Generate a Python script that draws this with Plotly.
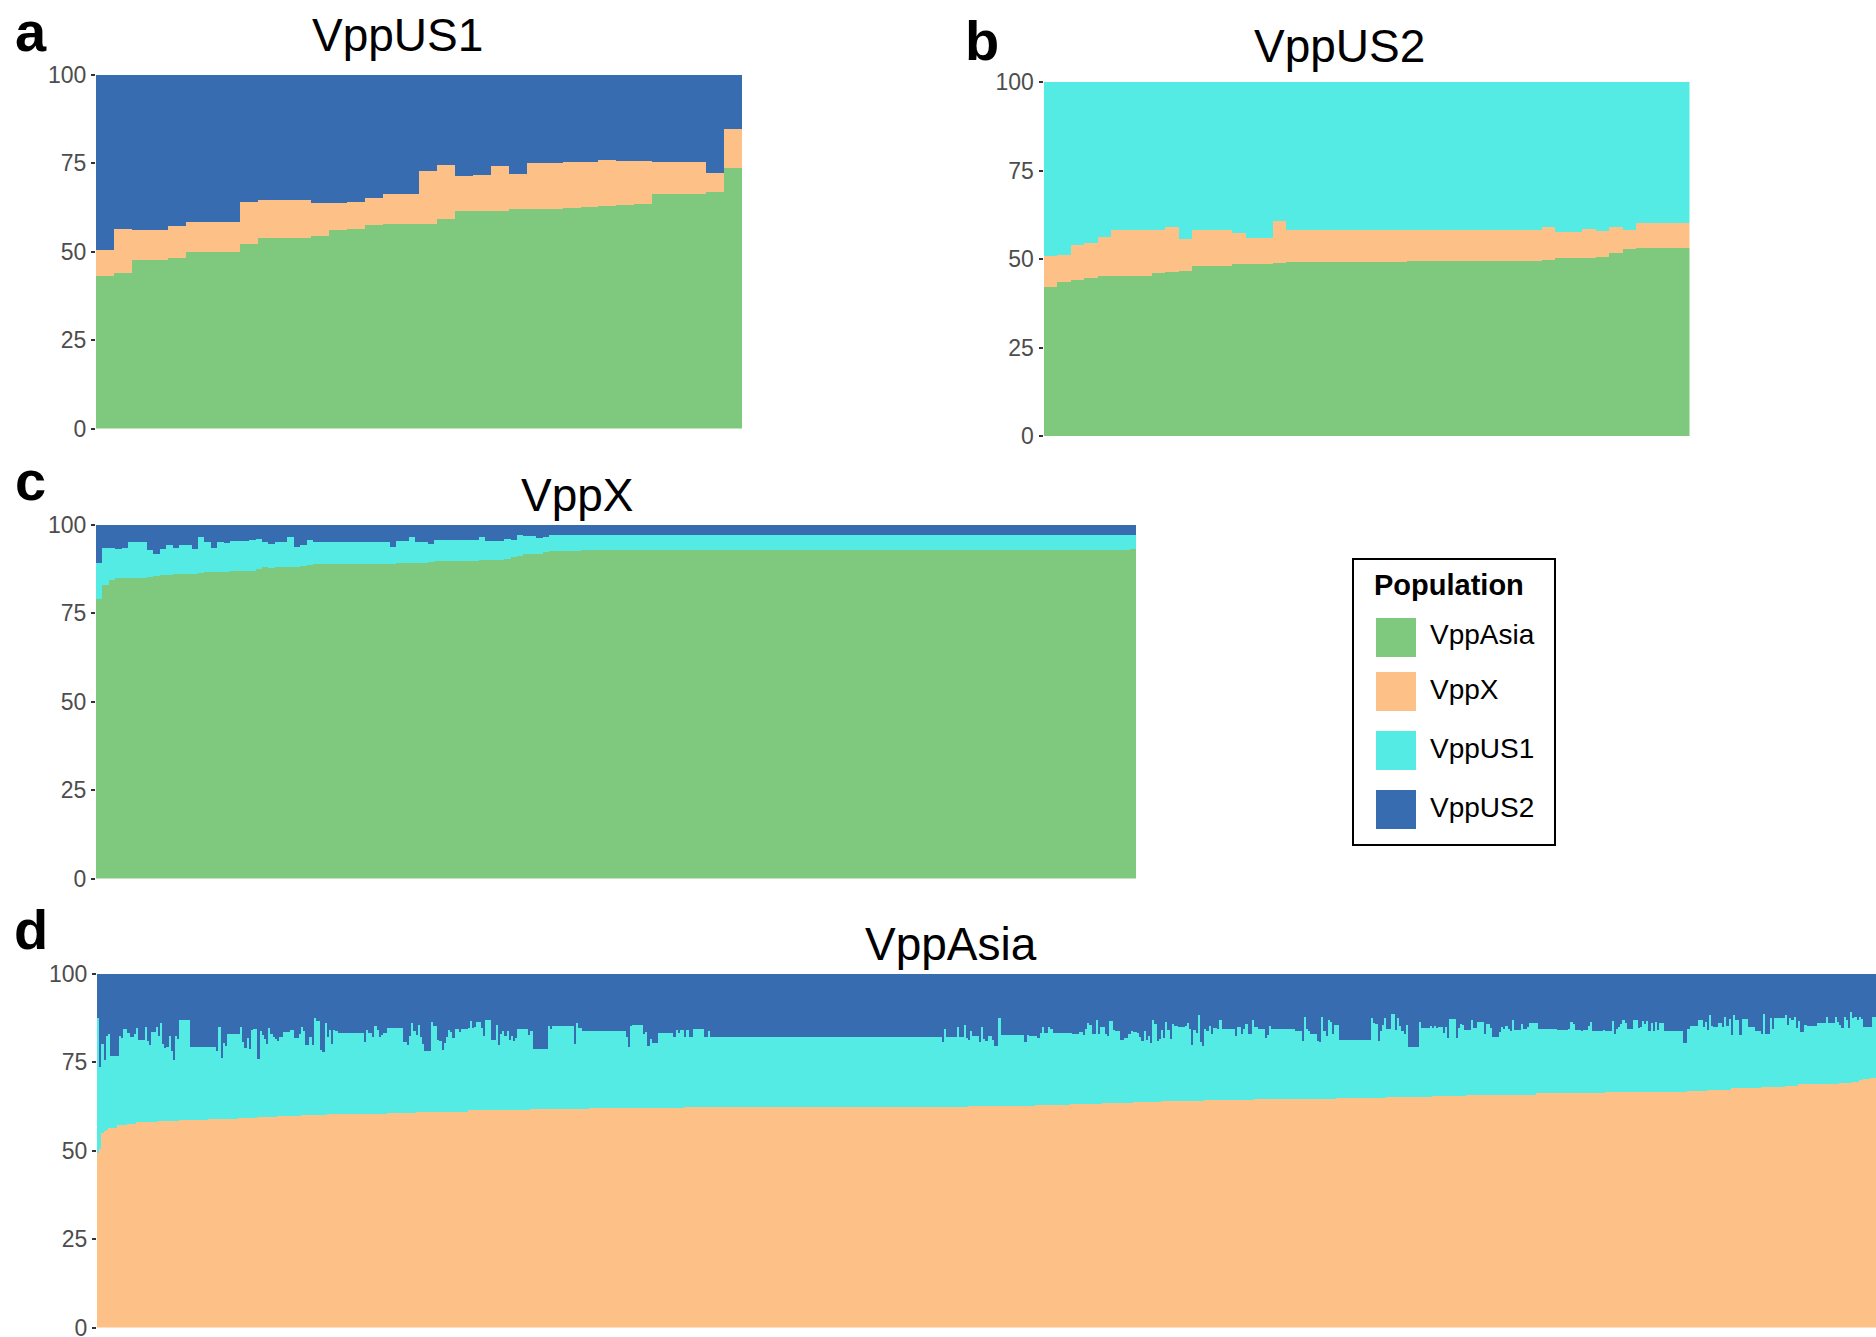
import plotly.graph_objects as go

FIG_W, FIG_H = 1876, 1337
FONT = "Liberation Sans, Arial, Helvetica, sans-serif"

populations = ["VppAsia", "VppX", "VppUS1", "VppUS2"]
pop_colors = ["#7FC97F", "#FDC086", "#53EBE3", "#386CB0"]
y_ticks = [0, 25, 50, 75, 100]

# ---- a: VppUS1 isolates, ancestry shares (%) ----
us1_vppasia = [43.2, 44.2, 47.7, 47.7, 48.3, 50.0, 50.0, 50.0, 52.3, 54.0, 54.0, 54.0,
               54.5, 56.2, 56.5, 57.6, 57.9, 57.9, 57.9, 59.3, 61.6, 61.6, 61.6, 62.1,
               62.1, 62.1, 62.4, 62.7, 63.0, 63.3, 63.6, 66.4, 66.4, 66.4, 67.0, 73.7]
us1_vppx = [7.4, 12.2, 8.5, 8.5, 9.0, 8.5, 8.5, 8.5, 11.8, 10.7, 10.7, 10.7,
            9.3, 7.6, 7.6, 7.7, 8.5, 8.5, 15.0, 15.3, 9.9, 10.2, 12.7, 9.9,
            13.0, 13.0, 13.0, 12.7, 13.0, 12.4, 12.1, 9.0, 9.0, 9.0, 5.3, 11.0]
us1_vppus2 = [49.4, 43.6, 43.8, 43.8, 42.7, 41.5, 41.5, 41.5, 35.9, 35.3, 35.3, 35.3,
              36.2, 36.2, 35.9, 34.7, 33.6, 33.6, 27.1, 25.4, 28.5, 28.2, 25.7, 28.0,
              24.9, 24.9, 24.6, 24.6, 24.0, 24.3, 24.3, 24.6, 24.6, 24.6, 27.7, 15.3]

# ---- b: VppUS2 isolates ----
us2_vppasia = [42.2, 43.6, 44.2, 44.7, 45.3, 45.3, 45.3, 45.3, 46.1, 46.4, 46.7, 48.1,
               48.1, 48.1, 48.7, 48.7, 48.7, 49.0, 49.2, 49.2, 49.2, 49.2, 49.2, 49.2,
               49.2, 49.2, 49.2, 49.5, 49.5, 49.5, 49.5, 49.5, 49.5, 49.5, 49.5, 49.5,
               49.5, 49.8, 50.4, 50.4, 50.4, 50.7, 51.8, 52.9, 53.2, 53.2, 53.2, 53.2]
us2_vppx = [8.7, 7.5, 9.8, 9.9, 11.0, 13.0, 13.0, 13.0, 12.2, 12.7, 9.0, 10.2,
            10.2, 10.2, 8.7, 7.3, 7.3, 11.8, 9.1, 9.1, 9.1, 9.1, 9.1, 9.1,
            9.1, 9.1, 9.1, 8.8, 8.8, 8.8, 8.8, 8.8, 8.8, 8.8, 8.8, 8.8,
            8.8, 9.1, 7.3, 7.3, 8.2, 7.3, 7.3, 5.4, 7.1, 7.1, 7.1, 7.1]
us2_vppus1 = [49.1, 48.9, 46.0, 45.4, 43.7, 41.7, 41.7, 41.7, 41.7, 40.9, 44.3, 41.7,
              41.7, 41.7, 42.6, 44.0, 44.0, 39.2, 41.7, 41.7, 41.7, 41.7, 41.7, 41.7,
              41.7, 41.7, 41.7, 41.7, 41.7, 41.7, 41.7, 41.7, 41.7, 41.7, 41.7, 41.7,
              41.7, 41.1, 42.3, 42.3, 41.4, 42.0, 40.9, 41.7, 39.7, 39.7, 39.7, 39.7]

# ---- c: VppX isolates, stored as (number of isolates, share %) runs ----
x_vppasia_runs = [(1, 79.1), (1, 83.1), (1, 84.5), (5, 85.1), (1, 85.3), (1, 85.6), (2, 85.9),
                  (4, 86.2), (1, 86.4), (4, 86.7), (4, 87.0), (1, 87.5), (1, 88.1), (1, 87.8),
                  (4, 88.1), (1, 88.4), (1, 88.7), (13, 89.0), (5, 89.3), (1, 89.5), (7, 89.8),
                  (4, 90.0), (1, 90.3), (1, 90.9), (1, 91.2), (3, 91.8), (1, 92.3), (5, 92.6),
                  (86, 92.9), (1, 93.2)]
x_vppus2_runs = [(1, 10.7), (2, 6.5), (1, 6.8), (1, 6.5), (3, 4.8), (1, 7.1), (1, 8.2), (1, 6.8),
                 (1, 5.7), (1, 6.5), (2, 5.7), (1, 6.8), (1, 3.4), (1, 4.8), (1, 6.5), (1, 4.8),
                 (1, 5.1), (3, 4.5), (1, 4.2), (1, 4.0), (1, 4.8), (1, 5.4), (2, 4.8), (1, 3.4),
                 (1, 6.2), (1, 5.7), (1, 4.2), (12, 4.8), (1, 6.2), (2, 4.5), (1, 3.4), (2, 4.8),
                 (1, 5.4), (7, 4.2), (1, 3.4), (3, 4.5), (1, 4.0), (1, 4.2), (1, 2.8), (2, 3.1),
                 (1, 3.7), (1, 3.4), (92, 2.8)]

# ---- d: VppAsia isolates, stored as (number of isolates, share %) runs ----
asia_vppx_runs = [(1, 49.5), (1, 50.5), (1, 55.0), (1, 55.5), (1, 56.0), (4, 56.5), (5, 57.2),
                  (4, 57.6), (10, 58.0), (10, 58.4), (13, 58.7), (14, 59.0), (9, 59.3), (9, 59.6),
                  (11, 59.8), (12, 60.1), (14, 60.3), (14, 60.5), (13, 60.7), (14, 60.9),
                  (10, 61.1), (10, 61.4), (19, 61.6), (27, 61.8), (44, 62.1),
                  (65, 62.3), (66, 62.5), (31, 62.8), (16, 63.0), (15, 63.2), (14, 63.5),
                  (13, 63.8), (20, 64.1), (23, 64.4), (14, 64.6),
                  (24, 64.7), (23, 64.9), (21, 65.2), (16, 65.4), (16, 65.7), (16, 65.9),
                  (32, 66.2), (21, 66.5), (17, 66.7), (9, 67.0), (11, 67.3), (14, 67.7),
                  (11, 67.9), (6, 68.4), (19, 68.8), (6, 69.1), (3, 69.5), (2, 69.9),
                  (3, 70.2), (3, 70.7)]
asia_vppus2_runs = [
    (1, 12.5), (1, 26.2), (1, 19.8), (1, 24.3), (1, 17.5), (1, 17.0), (4, 23.1), (1, 17.5),
    (1, 18.1), (2, 15.6), (1, 16.7), (2, 17.8), (1, 17.0), (1, 15.3), (3, 18.6), (1, 15.0),
    (1, 18.9), (1, 20.0), (2, 16.4), (1, 15.0), (1, 17.5), (1, 13.8), (1, 19.8), (1, 20.9),
    (1, 20.6), (1, 17.5), (1, 21.8), (1, 24.3), (1, 17.5), (1, 18.4), (5, 13.0), (12, 20.6),
    (1, 21.8), (1, 15.0), (1, 23.9), (1, 19.6), (1, 20.4), (6, 17.0), (1, 15.0), (1, 19.2),
    (1, 20.9), (1, 18.1), (1, 21.2), (1, 15.8), (2, 15.6), (1, 24.0), (1, 16.1), (1, 17.3),
    (1, 18.4), (1, 19.8), (1, 15.3), (1, 17.0), (1, 17.8), (1, 18.4), (1, 18.9), (2, 17.8),
    (3, 16.4), (2, 15.8), (2, 18.1), (1, 17.0), (1, 15.0), (1, 16.1), (2, 20.0), (1, 17.8),
    (1, 20.0), (1, 12.5), (2, 13.3), (1, 21.5), (1, 22.2), (1, 13.8), (1, 17.8), (1, 15.8),
    (1, 19.8), (1, 15.8), (1, 16.1), (12, 16.7), (1, 19.1), (1, 15.8), (2, 16.7), (1, 17.8),
    (1, 14.7), (1, 15.8), (1, 17.8), (1, 17.3), (2, 16.7), (7, 15.3), (2, 19.2), (1, 20.0),
    (1, 17.5), (1, 13.8), (1, 16.1), (1, 17.3), (1, 14.5), (1, 17.8), (1, 19.8), (3, 21.8),
    (1, 13.5), (2, 14.7), (1, 18.6), (1, 18.9), (1, 21.5), (1, 19.6), (1, 17.8), (1, 15.8),
    (1, 16.4), (1, 18.1), (2, 15.6), (1, 16.4), (3, 15.6), (1, 15.3), (1, 13.3), (1, 15.3),
    (1, 15.0), (2, 13.5), (1, 15.3), (1, 17.5), (3, 13.0), (2, 18.6), (1, 14.5), (1, 20.0),
    (1, 17.0), (1, 16.1), (1, 17.5), (1, 16.1), (1, 18.6), (1, 17.5), (1, 18.9), (1, 18.1),
    (5, 15.6), (1, 17.3), (1, 16.1), (7, 21.2), (1, 14.7), (1, 15.6), (10, 14.7), (1, 19.8),
    (1, 13.8), (2, 15.3), (20, 16.1), (1, 17.8), (1, 20.7), (1, 14.7), (5, 14.5), (1, 17.0),
    (1, 16.4), (1, 20.5), (1, 18.4), (3, 19.6), (7, 16.7), (1, 17.8), (1, 15.8), (1, 16.7),
    (2, 15.8),
    (1, 17.8), (1, 15.8), (2, 17.8), (5, 15.6), (2, 17.8), (1, 16.1), (107, 17.8), (1, 19.2),
    (1, 15.6), (5, 17.8), (1, 15.0), (2, 17.8), (1, 14.5), (1, 18.1), (1, 18.6), (1, 16.1),
    (3, 17.5), (1, 19.2), (1, 15.0), (1, 18.4), (1, 18.9), (2, 17.5), (1, 18.6), (2, 20.4),
    (1, 12.5), (11, 17.3), (1, 19.2), (1, 17.3), (4, 17.5), (1, 18.1), (1, 16.7), (1, 15.0),
    (2, 16.7), (1, 15.0), (1, 15.6), (9, 16.7), (3, 17.0), (2, 16.4), (1, 17.3), (1, 15.6),
    (1, 13.8), (1, 14.5), (2, 17.0), (1, 13.0), (1, 17.0), (2, 15.0), (1, 17.0), (1, 17.5),
    (2, 13.3), (1, 15.8), (2, 16.1), (2, 18.6), (2, 18.1), (1, 17.0), (1, 16.1), (2, 16.4),
    (1, 16.7), (1, 17.8), (1, 18.9), (1, 16.1), (1, 18.6), (1, 17.5), (1, 19.6), (1, 13.0),
    (1, 14.2), (1, 18.9), (1, 18.4), (1, 15.8), (1, 18.1), (1, 13.5), (1, 15.8), (1, 18.4),
    (1, 14.2), (2, 14.7), (3, 15.0), (1, 14.7), (1, 13.8), (1, 15.6), (1, 20.0), (1, 15.8),
    (1, 16.7), (1, 11.6), (1, 19.2), (1, 20.4), (1, 15.6), (1, 16.1), (1, 14.7), (1, 17.0),
    (2, 15.3), (1, 15.6), (1, 13.0), (6, 15.6), (1, 17.5), (2, 15.0), (1, 17.0), (1, 15.6),
    (1, 14.2), (2, 17.0), (1, 13.0), (2, 15.0), (3, 15.6), (1, 18.1), (1, 17.3), (1, 14.7),
    (6, 15.6),
    (5, 15.6), (3, 16.1), (1, 18.9), (1, 12.1), (1, 15.6), (1, 16.1), (3, 17.0), (1, 18.9),
    (1, 19.2), (1, 12.3), (1, 16.1), (1, 17.5), (1, 13.0), (1, 13.5), (1, 17.0), (2, 14.5),
    (15, 18.6), (1, 12.5), (1, 13.8), (1, 14.2), (1, 18.9), (1, 16.1), (1, 14.5), (1, 12.5),
    (2, 15.6), (2, 11.3), (1, 15.8), (1, 12.5), (1, 14.7), (1, 16.1), (1, 17.0), (1, 14.5),
    (5, 20.7), (1, 13.5), (4, 15.3), (1, 14.7), (1, 15.3), (1, 14.7), (1, 15.3), (2, 15.0),
    (1, 16.7), (1, 15.0), (1, 18.1), (3, 12.7), (1, 18.1), (1, 15.3), (1, 14.2), (1, 14.5),
    (3, 15.8), (1, 13.0), (2, 15.3), (3, 13.5), (1, 17.0), (2, 14.2), (1, 15.3), (3, 17.8),
    (1, 16.4), (1, 15.0), (1, 15.6), (1, 14.7), (1, 15.6), (1, 16.1), (1, 13.0), (3, 15.8),
    (1, 14.2), (2, 15.6), (1, 15.0), (4, 13.8), (9, 15.6), (5, 15.8), (1, 15.6), (1, 13.5),
    (1, 14.2), (3, 15.8), (1, 16.1), (2, 15.8), (1, 14.7), (1, 13.5), (5, 16.1), (1, 15.8),
    (3, 16.1), (1, 13.3), (1, 17.0), (1, 15.6), (1, 15.0), (1, 14.2), (1, 13.0), (1, 13.8),
    (3, 15.6), (2, 13.0), (1, 15.3), (1, 15.0), (1, 13.3), (1, 14.2), (1, 13.3), (1, 16.1),
    (1, 13.8), (1, 16.1), (1, 13.5), (1, 15.8), (2, 13.8), (9, 16.1), (2, 19.6), (1, 15.6),
    (4, 14.7), (2, 13.0), (1, 15.0), (1, 13.5), (1, 15.8), (1, 11.6), (1, 14.7), (2, 15.0),
    (2, 13.8), (1, 15.0), (1, 12.1), (1, 14.7), (1, 12.7), (1, 17.3), (1, 11.6), (2, 13.0),
    (1, 17.3), (3, 12.7), (3, 15.0), (3, 16.1), (1, 17.0), (1, 11.3), (2, 17.0), (1, 12.5),
    (1, 15.6), (5, 12.5), (1, 11.6), (1, 14.5), (1, 12.5), (1, 13.0), (1, 12.1), (1, 15.3),
    (1, 13.3), (2, 16.4), (1, 14.5), (5, 14.7), (4, 13.8), (1, 12.1), (3, 13.8), (1, 12.3),
    (1, 13.5), (1, 14.5), (1, 15.3), (1, 12.1), (1, 13.0), (1, 15.3), (1, 10.7), (1, 12.5),
    (1, 12.3), (1, 13.0), (1, 12.1), (1, 12.7), (1, 15.0), (3, 15.0), (1, 12.3), (1, 12.1),
]


def expand(runs):
    values = []
    for count, share in runs:
        values.extend([share] * count)
    return values


def remainder(*parts):
    return [round(100 - sum(v), 2) for v in zip(*parts)]


x_vppasia = expand(x_vppasia_runs)
x_vppus2 = expand(x_vppus2_runs)
x_vppus1 = remainder(x_vppasia, x_vppus2)

asia_vppx = expand(asia_vppx_runs)
asia_vppus2 = expand(asia_vppus2_runs)
n_asia = min(len(asia_vppx), len(asia_vppus2))
asia_vppx, asia_vppus2 = asia_vppx[:n_asia], asia_vppus2[:n_asia]
asia_vppus1 = remainder(asia_vppx, asia_vppus2)


def px(x):
    return x / FIG_W


def py(y):
    return 1 - y / FIG_H


# panel boxes in pixels: (left, right, top, bottom)
panels = [
    dict(letter="a", title="VppUS1", box=(96, 742, 74.5, 428.5),
         title_xy=(397, 35), letter_xy=(13, 31.5),
         shares={"VppAsia": us1_vppasia, "VppX": us1_vppx, "VppUS2": us1_vppus2}),
    dict(letter="b", title="VppUS2", box=(1043.5, 1689.5, 82, 436),
         title_xy=(1339, 46), letter_xy=(963, 40.5),
         shares={"VppAsia": us2_vppasia, "VppX": us2_vppx, "VppUS1": us2_vppus1}),
    dict(letter="c", title="VppX", box=(96, 1136, 524.5, 878.5),
         title_xy=(577, 495), letter_xy=(13, 480.5),
         shares={"VppAsia": x_vppasia, "VppUS1": x_vppus1, "VppUS2": x_vppus2}),
    dict(letter="d", title="VppAsia", box=(97, 1876, 974, 1327.5),
         title_xy=(951, 944), letter_xy=(12, 929.5),
         shares={"VppX": asia_vppx, "VppUS1": asia_vppus1, "VppUS2": asia_vppus2}),
]

fig = go.Figure()
annotations = []
layout_axes = {}

for i, p in enumerate(panels, start=1):
    sfx = "" if i == 1 else str(i)
    left, right, top, bottom = p["box"]
    n = len(next(iter(p["shares"].values())))
    for pop, color in zip(populations, pop_colors):
        if pop not in p["shares"]:
            continue
        fig.add_trace(go.Bar(
            x=list(range(n)), y=p["shares"][pop], name=pop,
            marker=dict(color=color, line=dict(width=0)),
            width=1.0, xaxis="x" + sfx, yaxis="y" + sfx,
            showlegend=False, hoverinfo="skip",
        ))
    layout_axes["xaxis" + sfx] = dict(
        domain=[px(left), px(right)], range=[-0.5, n - 0.5], anchor="y" + sfx,
        visible=False, fixedrange=True, automargin=False,
    )
    layout_axes["yaxis" + sfx] = dict(
        domain=[py(bottom), py(top)], range=[0, 100], anchor="x" + sfx,
        tickmode="array", tickvals=y_ticks, ticktext=[str(t) for t in y_ticks],
        ticks="outside", ticklen=4, tickwidth=1.5, tickcolor="#333333",
        tickfont=dict(family=FONT, size=23, color="#4D4D4D"),
        ticklabeloverflow="allow",
        showgrid=False, zeroline=False, showline=False, fixedrange=True,
        automargin=False,
    )
    tx, ty = p["title_xy"]
    annotations.append(dict(
        text=p["title"], x=px(tx), y=py(ty), xref="paper", yref="paper",
        xanchor="center", yanchor="middle", showarrow=False,
        font=dict(family=FONT, size=46, color="#000000"),
    ))
    lx, ly = p["letter_xy"]
    annotations.append(dict(
        text="<b>" + p["letter"] + "</b>", x=px(lx), y=py(ly), xref="paper", yref="paper",
        xanchor="left", yanchor="middle", showarrow=False,
        font=dict(family=FONT, size=56, color="#000000"),
    ))

# legend box drawn in page pixels
shapes = [dict(type="rect", xref="paper", yref="paper",
               x0=px(1353), x1=px(1555), y0=py(845), y1=py(559),
               line=dict(color="#000000", width=2), fillcolor="rgba(0,0,0,0)")]
annotations.append(dict(
    text="<b>Population</b>", x=px(1372), y=py(585), xref="paper", yref="paper",
    xanchor="left", yanchor="middle", showarrow=False,
    font=dict(family=FONT, size=29, color="#000000"),
))
swatch_tops = [618, 672, 731, 790]
for pop, color, top in zip(populations, pop_colors, swatch_tops):
    shapes.append(dict(type="rect", xref="paper", yref="paper",
                       x0=px(1376), x1=px(1416), y0=py(top + 39), y1=py(top),
                       line=dict(width=0), fillcolor=color))
    annotations.append(dict(
        text=pop, x=px(1428), y=py(top + 17), xref="paper", yref="paper",
        xanchor="left", yanchor="middle", showarrow=False,
        font=dict(family=FONT, size=28, color="#000000"),
    ))

fig.update_layout(
    width=FIG_W, height=FIG_H,
    margin=dict(l=0, r=0, t=0, b=0, autoexpand=False),
    paper_bgcolor="#FFFFFF", plot_bgcolor="#FFFFFF",
    barmode="stack", bargap=0, bargroupgap=0,
    showlegend=False,
    annotations=annotations, shapes=shapes,
    font=dict(family=FONT),
    **layout_axes,
)

fig.write_html("out.html", config={"displayModeBar": False})
